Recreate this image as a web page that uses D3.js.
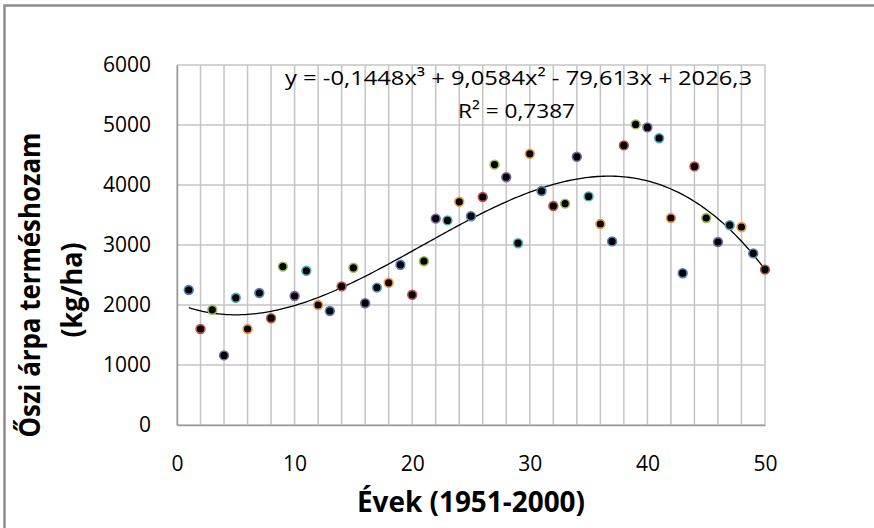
<!DOCTYPE html>
<html>
<head>
<meta charset="utf-8">
<script src="https://cdn.jsdelivr.net/npm/d3@7"></script>
<style>
  html, body { margin: 0; padding: 0; background: #fff; }
  svg { display: block; }
  text { font-family: "Open Sans", "Noto Sans", sans-serif; fill: #000; }
</style>
</head>
<body>
<svg id="chart" width="874" height="528"></svg>
<script>
// ---- data ----
const years = [1,2,3,4,5,6,7,8,9,10,11,12,13,14,15,16,17,18,19,20,21,22,23,24,25,
               26,27,28,29,30,31,32,33,34,35,36,37,38,39,40,41,42,43,44,45,46,47,48,49,50];
const yields = [2250,1600,1920,1160,2120,1600,2200,1780,2640,2150,
                2570,2000,1900,2310,2620,2030,2290,2370,2670,2170,
                2730,3440,3410,3720,3480,3800,4340,4130,3030,4520,
                3900,3650,3690,4470,3810,3350,3060,4660,5010,4960,
                4780,3450,2530,4310,3450,3050,3330,3300,2860,2590];
const trendCoef = [-0.1448, 9.0584, -79.613, 2026.3]; // cubic trendline from chart label
const xTicks = [0,10,20,30,40,50];
const yTicks = [0,1000,2000,3000,4000,5000,6000];
const pointColors = ["#4F81BD","#C0504D","#9BBB59","#8064A2","#4BACC6","#F79646"];
const eqText = "y = -0,1448x\u00B3 + 9,0584x\u00B2 - 79,613x + 2026,3";
const r2Text = "R\u00B2 = 0,7387";
const xTitle = "Évek (1951-2000)";
const yTitle1 = "Őszi árpa terméshozam";
const yTitle2 = "(kg/ha)";

// ---- layout ----
const svg = d3.select("#chart");
const L = 177, R = 765, T = 65, B = 425;
const x = d3.scaleLinear().domain([0,50]).range([L,R]);
const y = d3.scaleLinear().domain([0,6000]).range([B,T]);

// outer frame
svg.append("rect").attr("x",4.5).attr("y",5.5).attr("width",900).attr("height",600)
  .attr("fill","none").attr("stroke","#8c8c8c").attr("stroke-width",2.5);

// gridlines
const g = svg.append("g");
g.selectAll("line.v").data(d3.range(0,51,2)).join("line")
  .attr("x1",d=>x(d)).attr("x2",d=>x(d)).attr("y1",T).attr("y2",B)
  .attr("stroke","#c4c4c4").attr("stroke-width",1.5);
g.selectAll("line.h").data(yTicks).join("line")
  .attr("x1",L).attr("x2",R).attr("y1",d=>y(d)).attr("y2",d=>y(d))
  .attr("stroke","#c4c4c4").attr("stroke-width",1.5);

// axes (no tick marks)
const yAxis = d3.axisLeft(y).tickValues(yTicks).tickSize(0).tickPadding(26).tickFormat(d3.format("d"));
const xAxis = d3.axisBottom(x).tickValues(xTicks).tickSize(0).tickPadding(31).tickFormat(d3.format("d"));
const ya = svg.append("g").attr("transform",`translate(${L},0)`).call(yAxis);
const xa = svg.append("g").attr("transform",`translate(0,${B})`).call(xAxis);
[ya, xa].forEach(a => {
  a.select(".domain").attr("stroke","#9a9a9a").attr("stroke-width",1.5);
  a.selectAll("text").style("font-family","'Open Sans', sans-serif").style("font-size","21px").attr("fill","#000");
});

// trendline
const trend = d3.range(1, 50.01, 0.25).map(v => [v, ((trendCoef[0]*v + trendCoef[1])*v + trendCoef[2])*v + trendCoef[3]]);
svg.append("path").datum(trend)
  .attr("d", d3.line().x(d=>x(d[0])).y(d=>y(d[1])))
  .attr("fill","none").attr("stroke","#000").attr("stroke-width",1.3);

// points
svg.append("g").selectAll("circle").data(years).join("circle")
  .attr("cx",(d)=>x(d)).attr("cy",(d,i)=>y(yields[i])).attr("r",4.4)
  .attr("fill","#000").attr("stroke",(d,i)=>pointColors[i%pointColors.length]).attr("stroke-width",1.6);

// trendline label
svg.append("text").attr("x",518.5).attr("y",85).attr("text-anchor","middle")
  .style("font-size","20.5px").attr("textLength",467).attr("lengthAdjust","spacingAndGlyphs").text(eqText);
svg.append("text").attr("x",516.5).attr("y",118).attr("text-anchor","middle")
  .style("font-size","20.5px").attr("textLength",117).attr("lengthAdjust","spacingAndGlyphs").text(r2Text);

// axis titles
svg.append("text").attr("x",471).attr("y",512).attr("text-anchor","middle")
  .style("font-size","28px").style("font-weight","bold")
  .attr("textLength",228).attr("lengthAdjust","spacingAndGlyphs").text(xTitle);
svg.append("text").attr("transform","translate(40,285) rotate(-90)").attr("text-anchor","middle")
  .style("font-size","28px").style("font-weight","bold")
  .attr("textLength",305).attr("lengthAdjust","spacingAndGlyphs").text(yTitle1);
svg.append("text").attr("transform","translate(82,290) rotate(-90)").attr("text-anchor","middle")
  .style("font-size","28px").style("font-weight","bold")
  .attr("textLength",95).attr("lengthAdjust","spacingAndGlyphs").text(yTitle2);
</script>
</body>
</html>
